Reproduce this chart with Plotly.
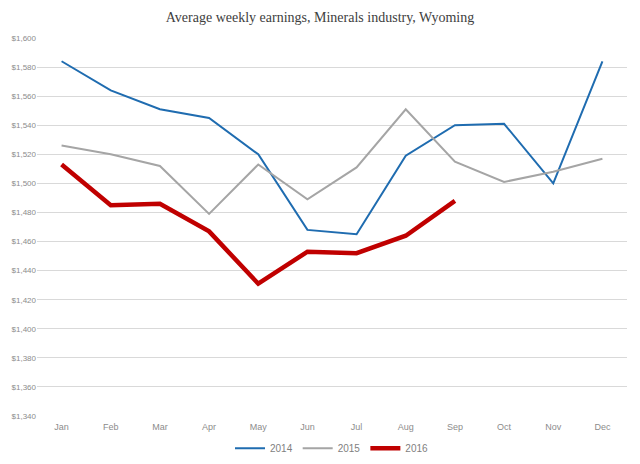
import plotly.graph_objects as go

# monthly average weekly earnings
months = ["Jan", "Feb", "Mar", "Apr", "May", "Jun", "Jul", "Aug", "Sep", "Oct", "Nov", "Dec"]
earn_2014 = [1584, 1564, 1551, 1545, 1520, 1468, 1465, 1519, 1540, 1541, 1500, 1584]
earn_2015 = [1526, 1520, 1512, 1479, 1513, 1489, 1511, 1551, 1515, 1501, 1508, 1517]
earn_2016 = [1513, 1485, 1486, 1467, 1431, 1453, 1452, 1464, 1488]
y_ticks = list(range(1340, 1601, 20))

fig = go.Figure()
fig.add_trace(go.Scatter(x=months, y=earn_2014, mode='lines', name='2014',
                         line=dict(color='#1F6CB0', width=2)))
fig.add_trace(go.Scatter(x=months, y=earn_2015, mode='lines', name='2015',
                         line=dict(color='#A5A5A5', width=2)))
fig.add_trace(go.Scatter(x=months[:len(earn_2016)], y=earn_2016, mode='lines', name='2016',
                         line=dict(color='#C00000', width=4.5)))

# the page body has an 8px margin, so the figure is sized to fit inside the window
fig.update_layout(
    width=624, height=448,
    margin=dict(l=29, r=5, t=30, b=40, autoexpand=False),
    paper_bgcolor='white', plot_bgcolor='white',
    title=dict(text='Average weekly earnings, Minerals industry, Wyoming',
               x=0.5, xanchor='center', y=0.980, yanchor='middle',
               font=dict(family='Liberation Serif', size=14, color='#404040')),
    xaxis=dict(type='category', range=[-0.5, 11.5], showgrid=False, showline=False,
               ticks='', ticklabelstandoff=4, automargin=False,
               tickfont=dict(family='Liberation Sans', size=9, color='#8c8c8c')),
    yaxis=dict(range=[1340, 1600], tickvals=y_ticks,
               ticktext=['${:,}'.format(v) for v in y_ticks],
               showgrid=True, gridcolor='#d9d9d9', gridwidth=1,
               zeroline=False, showline=False, ticks='', automargin=False,
               tickfont=dict(family='Liberation Sans', size=8, color='#8c8c8c')),
    legend=dict(orientation='h', x=0.5, xanchor='center', y=-0.085, yanchor='middle',
                font=dict(family='Liberation Sans', size=10, color='#7f7f7f'),
                bgcolor='rgba(0,0,0,0)', itemwidth=30, tracegroupgap=0),
    showlegend=True,
)

fig.write_html("out.html")
